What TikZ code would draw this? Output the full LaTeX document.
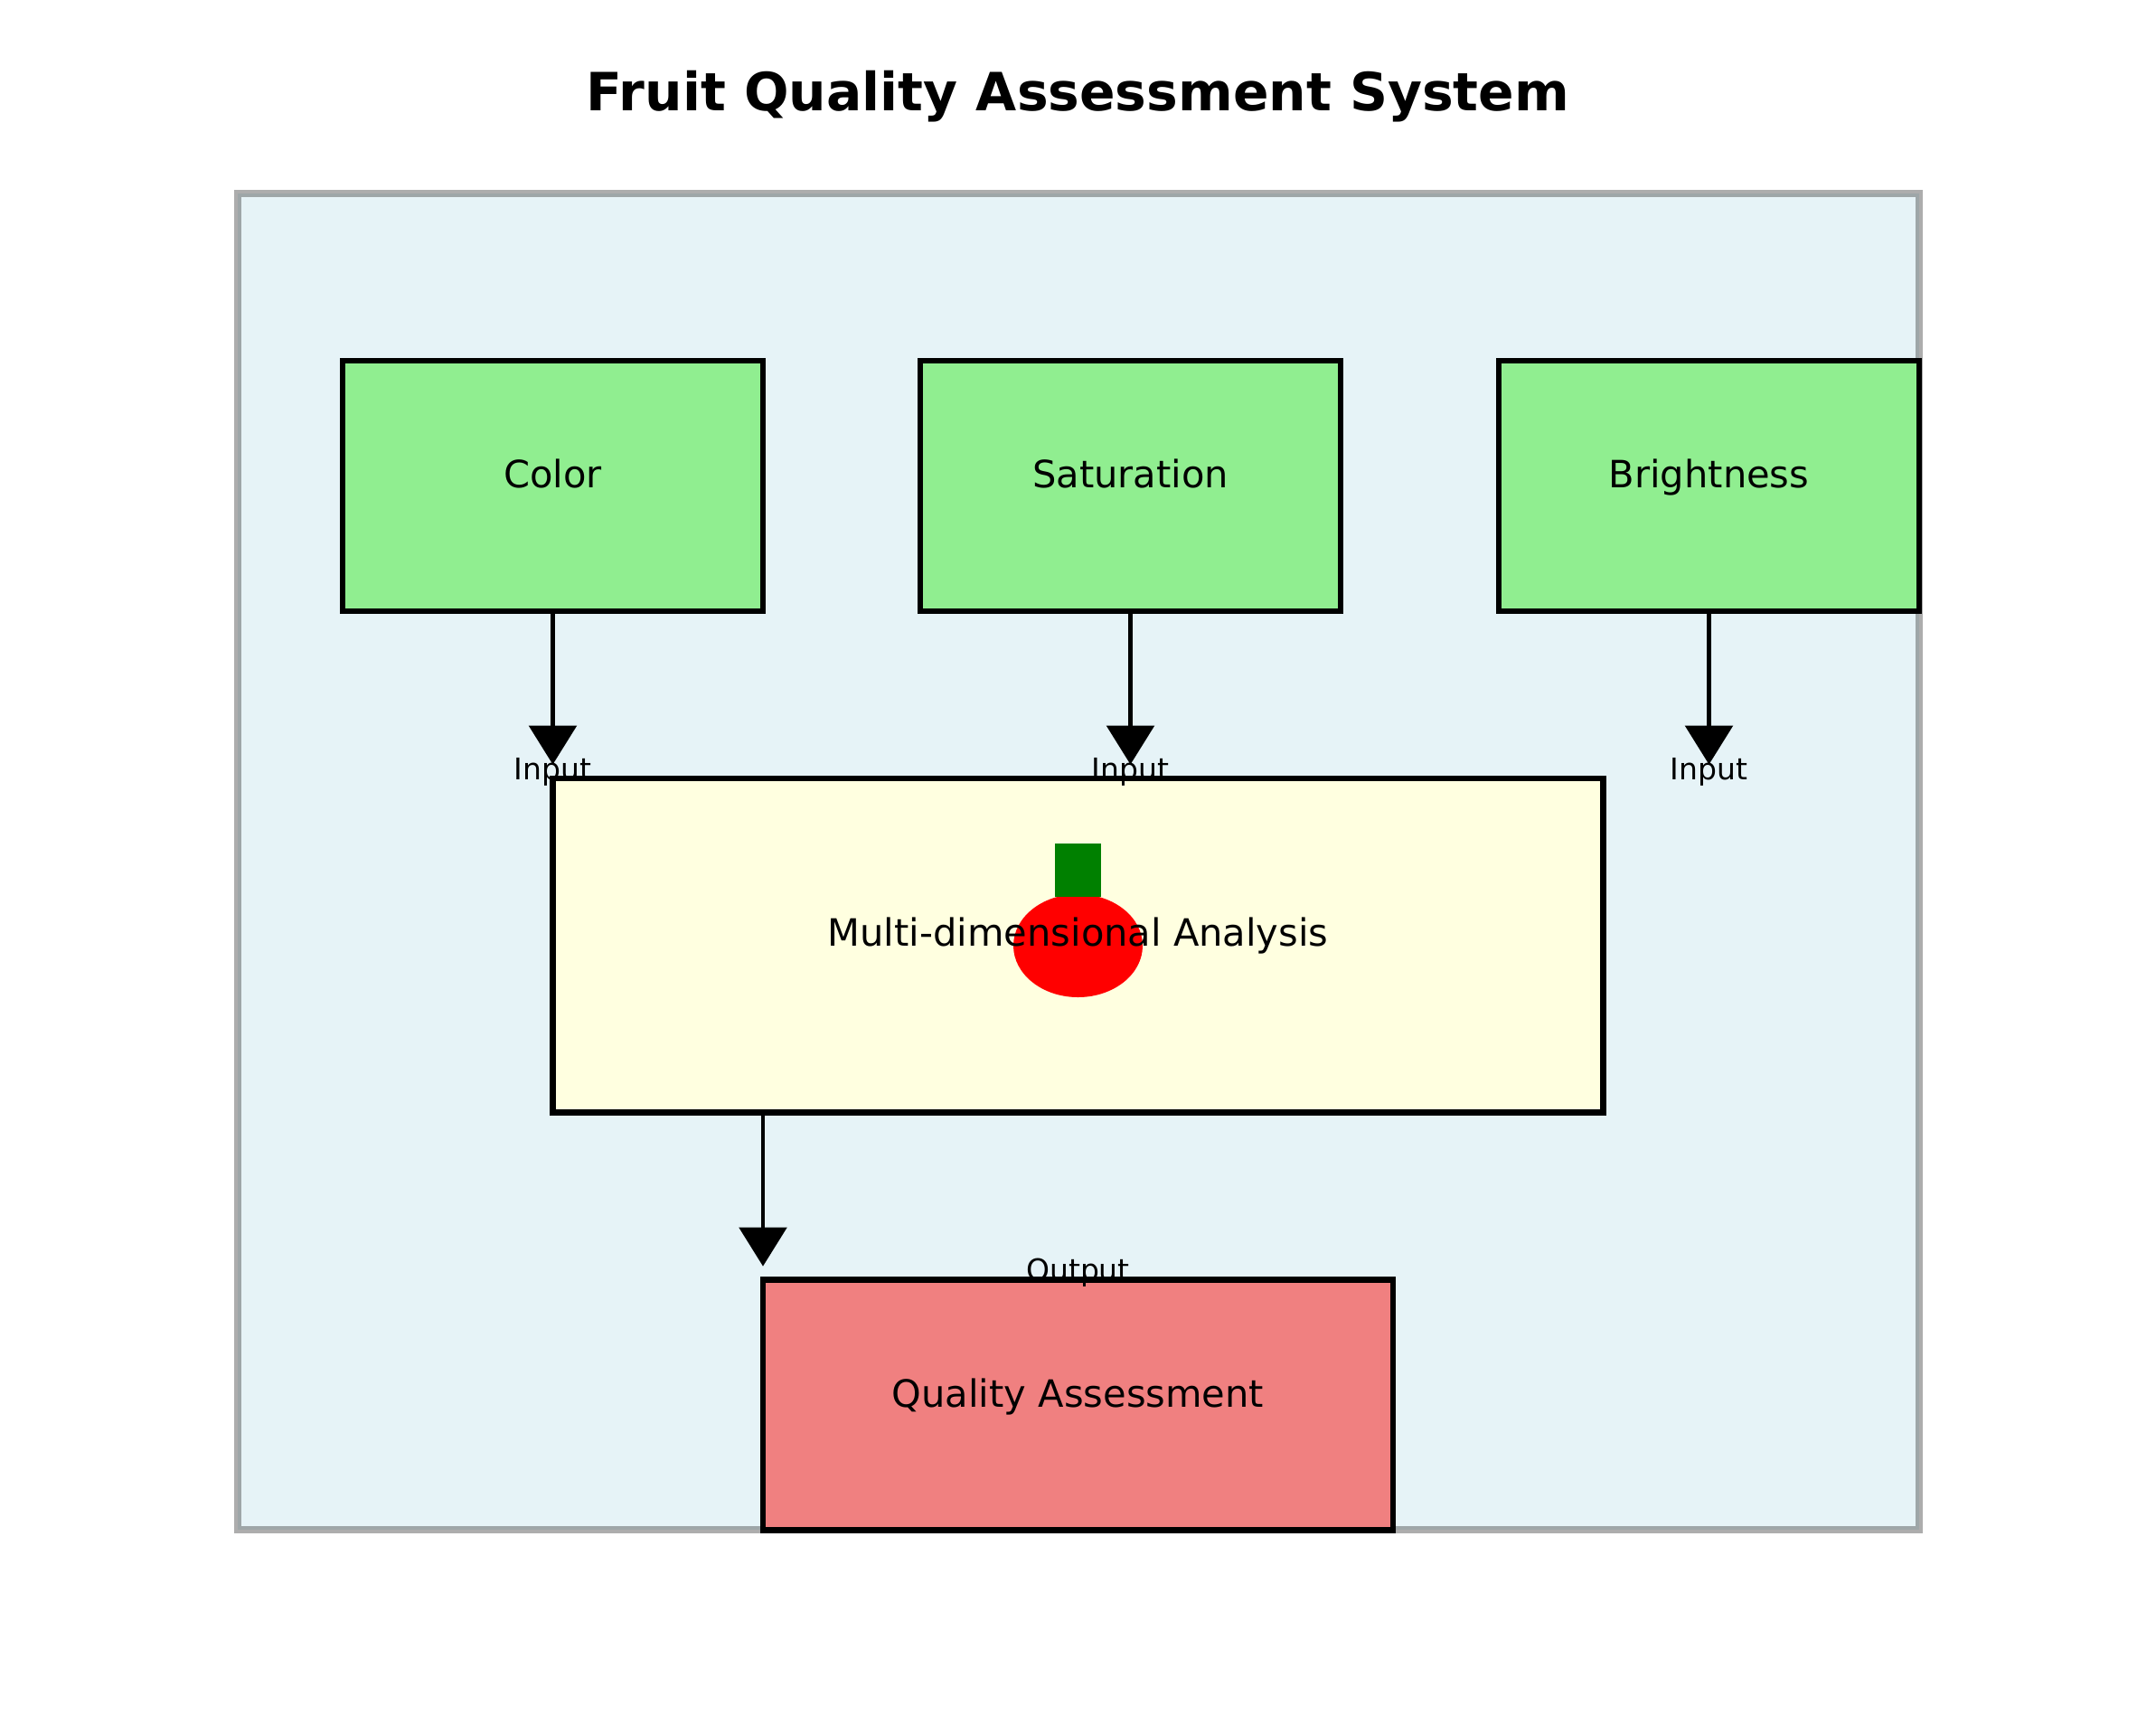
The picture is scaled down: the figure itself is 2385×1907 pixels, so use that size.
\documentclass[tikz,border=0pt]{standalone}
\usepackage{fontspec}
\setmainfont{DejaVu Sans}
\usetikzlibrary{arrows.meta,shapes.geometric}
\definecolor{panelfill}{HTML}{ADD8E6}
\definecolor{panelline}{HTML}{333333}
\definecolor{featfill}{HTML}{90EE90}
\definecolor{anafill}{HTML}{FFFFE0}
\definecolor{qualfill}{HTML}{F08080}
\definecolor{stemgreen}{HTML}{008000}
\tikzset{
  boxbase/.style={draw=black,line width=6.4pt,rectangle,inner sep=0pt,outer sep=0pt},
  featbox/.style={boxbase,fill=featfill,minimum width=465pt,minimum height=277pt},
  anabox/.style={boxbase,fill=anafill,minimum width=1162pt,minimum height=369.5pt},
  qualbox/.style={boxbase,fill=qualfill,minimum width=697pt,minimum height=277pt},
  boxtext/.style={anchor=base,inner sep=0pt,font=\fontsize{41.6pt}{50pt}\selectfont},
  smalltext/.style={anchor=base,inner sep=0pt,font=\fontsize{33pt}{38pt}\selectfont},
  titletext/.style={anchor=base,inner sep=0pt,font=\fontsize{58.3pt}{70pt}\selectfont\bfseries},
  flow/.style={draw=black,line width=4.2pt,-{Triangle[length=43pt,width=53.6pt,line width=0pt]}}
}
\begin{document}
\begin{tikzpicture}[x=1pt,y=-1pt]
\useasboundingbox (0,0) rectangle (2385,1907);
\fill[white] (0,0) rectangle (2385,1907);
\node[titletext] (title) at (1192.5,122) {Fruit Quality Assessment System};
\path[fill=panelfill,fill opacity=0.3,draw=panelline,draw opacity=0.4,line width=8pt] (263,214) rectangle (2123,1692);
\node[featbox] (color) at (611.5,537.5) {};
\node[featbox] (sat) at (1250.5,537.5) {};
\node[featbox] (bright) at (1890.5,537.5) {};
\node[boxtext] (colort) at (611.5,539) {Color};
\node[boxtext] (satt) at (1250.5,539) {Saturation};
\node[boxtext] (brightt) at (1890.5,539) {Brightness};
\coordinate (tipa) at (611.5,845.5);
\coordinate (tipb) at (1250.5,845.5);
\coordinate (tipc) at (1890.5,845.5);
\coordinate (tipd) at (844,1400.5);
\draw[flow] (color.south) -- (tipa);
\draw[flow] (sat.south) -- (tipb);
\draw[flow] (bright.south) -- (tipc);
\node[anabox] (ana) at (1192.5,1045.8) {};
\node[qualbox] (qual) at (1192.5,1554) {};
\coordinate (anaout) at (844,1230);
\draw[flow] (anaout) -- (tipd);
\node[smalltext] (ina) at (611.5,862) {Input};
\node[smalltext] (inb) at (1250.5,862) {Input};
\node[smalltext] (inc) at (1890.5,862) {Input};
\node[smalltext] (outl) at (1192.5,1416) {Output};
\fill[red] (1192.5,1046) ellipse [x radius=71.5pt,y radius=57pt];
\fill[stemgreen] (1167,933) rectangle (1218,992);
\node[boxtext] (anat) at (1192.5,1046.5) {Multi-dimensional Analysis};
\node[boxtext] (qualt) at (1192.5,1556) {Quality Assessment};
\end{tikzpicture}
\end{document}
